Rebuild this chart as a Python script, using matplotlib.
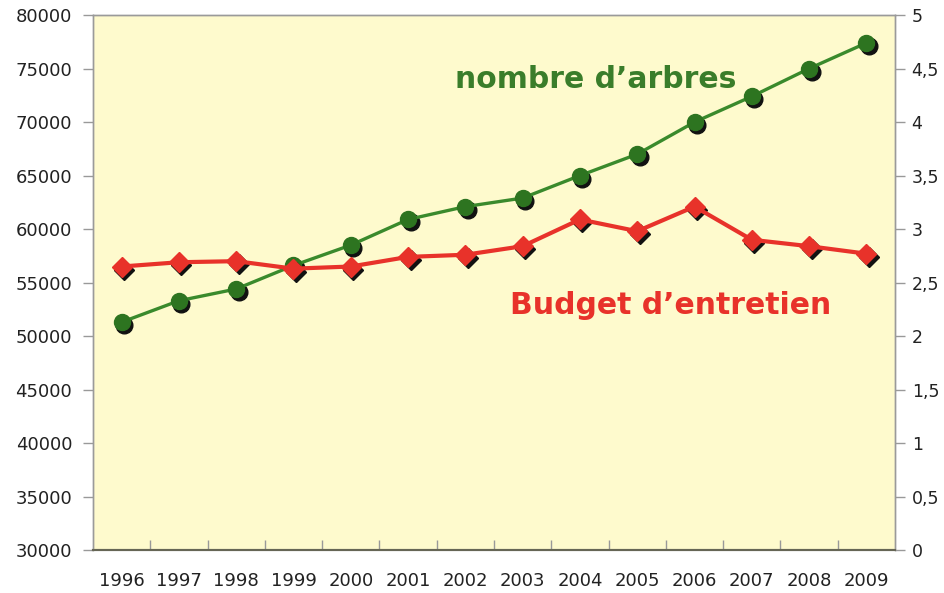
import matplotlib
matplotlib.use('Agg')
import matplotlib.pyplot as plt
import matplotlib.transforms as mtransforms

years = [1996, 1997, 1998, 1999, 2000, 2001, 2002, 2003, 2004, 2005, 2006, 2007, 2008, 2009]
arbres = [51300, 53300, 54400, 56600, 58500, 60900, 62100, 62900, 65000, 67000, 70000, 72400, 75000, 77400]
budget = [2.65, 2.69, 2.70, 2.63, 2.65, 2.74, 2.76, 2.84, 3.09, 2.98, 3.21, 2.90, 2.84, 2.77]

left_ticks = [30000, 35000, 40000, 45000, 50000, 55000, 60000, 65000, 70000, 75000, 80000]
right_ticks = [0, 0.5, 1, 1.5, 2, 2.5, 3, 3.5, 4, 4.5, 5]
right_labels = ['0', '0,5', '1', '1,5', '2', '2,5', '3', '3,5', '4', '4,5', '5']

green = '#3a8a2c'
green_dark = '#2d7420'
green_text = '#3a7d2a'
red = '#e8322a'
bg = '#fefacd'

fig = plt.figure(figsize=(9.45, 5.93), dpi=100)
ax1 = fig.add_axes([0.0984, 0.0725, 0.8487, 0.9020])
ax2 = ax1.twinx()

x = list(range(len(years)))

# shadows under markers
shadow1 = mtransforms.offset_copy(ax1.transData, fig=fig, x=2.5, y=-3, units='dots')
shadow2 = mtransforms.offset_copy(ax2.transData, fig=fig, x=2.5, y=-3, units='dots')

ax1.plot(x, arbres, ls='none', marker='o', ms=12, color='#111111', transform=shadow1, zorder=2)
ax1.plot(x, arbres, color=green, lw=2.4, marker='o', ms=11.5, mfc=green_dark, mec=green_dark, zorder=3)

ax2.plot(x, budget, ls='none', marker='D', ms=10, color='#111111', transform=shadow2, zorder=2)
ax2.plot(x, budget, color=red, lw=3, marker='D', ms=10, mfc=red, mec=red, zorder=3)

ax1.set_facecolor(bg)
ax1.set_xlim(-0.5, len(years) - 0.5)
ax1.set_ylim(30000, 80000)
ax2.set_ylim(0, 5)

ax1.set_yticks(left_ticks)
ax1.set_yticklabels([str(v) for v in left_ticks])
ax2.set_yticks(right_ticks)
ax2.set_yticklabels(right_labels)

ax1.set_xticks(x)
ax1.set_xticklabels([str(y) for y in years])
ax1.set_xticks([i + 0.5 for i in x[:-1]], minor=True)
ax1.tick_params(axis='x', which='major', length=0, pad=16, labelsize=13, colors='#222222')
ax1.tick_params(axis='x', which='minor', direction='in', length=7, width=1, color='#999999')
ax1.tick_params(axis='y', direction='out', length=7, width=1, color='#999999', pad=8,
                labelsize=13, labelcolor='#222222')
ax2.tick_params(axis='y', direction='out', length=7, width=1, color='#999999', pad=5,
                labelsize=12.5, labelcolor='#222222')

for ax in (ax1, ax2):
    for side in ['left', 'right', 'top']:
        ax.spines[side].set_color('#9a9a9a')
        ax.spines[side].set_linewidth(1)
    ax.spines['bottom'].set_color('#666655')
    ax.spines['bottom'].set_linewidth(1.5)

ax1.text(0.451, 0.879, 'nombre d\u2019arbres', transform=ax1.transAxes, fontsize=21.5,
         fontweight='bold', color=green_text, va='center', ha='left')
ax1.text(0.52, 0.458, 'Budget d\u2019entretien', transform=ax1.transAxes, fontsize=21.5,
         fontweight='bold', color=red, va='center', ha='left')

plt.savefig('out.png', dpi=100)
